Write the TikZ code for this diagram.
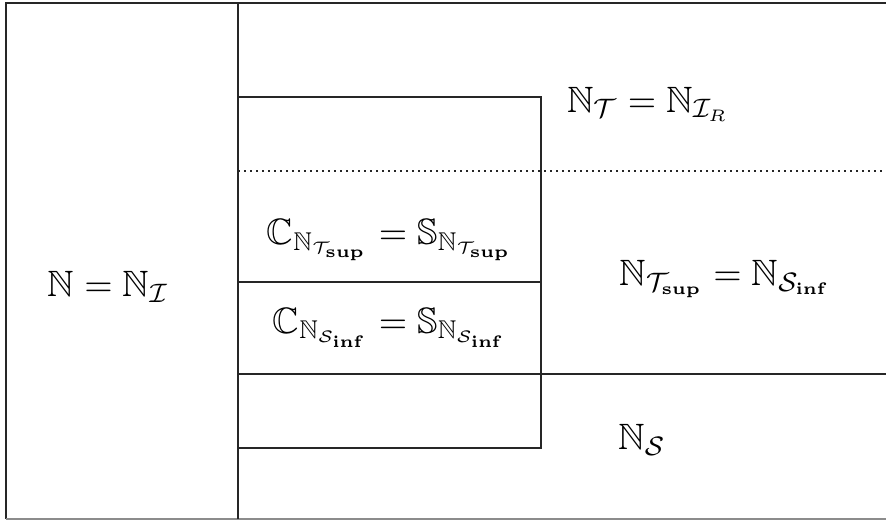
\documentclass[tikz,border=0pt]{standalone}
\usepackage{amsmath,amssymb}
\begin{document}
\begin{tikzpicture}[x=0.3pt,y=-0.3pt,
  frame/.style={line width=0.65pt, draw=black!85},
  thin frame/.style={line width=0.5pt, draw=black!45},
  dotline/.style={line width=0.7pt, draw=black!85, dash pattern=on 0.6pt off 1.2pt},
  lbl/.style={inner sep=0pt, font=\fontsize{11}{13}\selectfont}]
\useasboundingbox (0,0) rectangle (886,521);
% outer frame: top, left, bottom
\coordinate (tl) at (6,3);
\coordinate (tr) at (886,3);
\coordinate (bl) at (6,519);
\coordinate (br) at (886,519);
\draw[frame] (tr) -- (tl) -- (bl);
\draw[thin frame] (bl) -- (br);
% vertical divider
\coordinate (vt) at (238,3);
\coordinate (vb) at (238,519);
\draw[frame] (vt) -- (vb);
% inner box
\coordinate (ia) at (238,97);
\coordinate (ib) at (541,448);
\draw[frame] (ia) -| (ib) -- (ib -| ia);
% dotted level line
\coordinate (da) at (238,171);
\coordinate (db) at (886,171);
\draw[dotline] (da) -- (db);
% middle split of the inner box
\coordinate (ma) at (238,282);
\coordinate (mb) at (541,282);
\draw[frame] (ma) -- (mb);
% lower level line
\coordinate (la) at (238,374);
\coordinate (lb) at (886,374);
\draw[frame] (la) -- (lb);
% labels
\node[lbl] (nI) at (108,287) {$\mathbb{N} = \mathbb{N}_{\mathcal{I}}$};
\node[lbl] (nT) at (648,104) {$\mathbb{N}_{\mathcal{T}} = \mathbb{N}_{\mathcal{I}_R}$};
\node[lbl] (cs1) at (390,240) {$\mathbb{C}_{\mathbb{N}_{\mathcal{T}_{\mathbf{sup}}}} = \mathbb{S}_{\mathbb{N}_{\mathcal{T}_{\mathbf{sup}}}}$};
\node[lbl] (cs2) at (390,328) {$\mathbb{C}_{\mathbb{N}_{\mathcal{S}_{\mathbf{inf}}}} = \mathbb{S}_{\mathbb{N}_{\mathcal{S}_{\mathbf{inf}}}}$};
\node[lbl] (ns) at (725,279) {$\mathbb{N}_{\mathcal{T}_{\mathbf{sup}}} = \mathbb{N}_{\mathcal{S}_{\mathbf{inf}}}$};
\node[lbl] (nS) at (642,440) {$\mathbb{N}_{\mathcal{S}}$};
\end{tikzpicture}
\end{document}
